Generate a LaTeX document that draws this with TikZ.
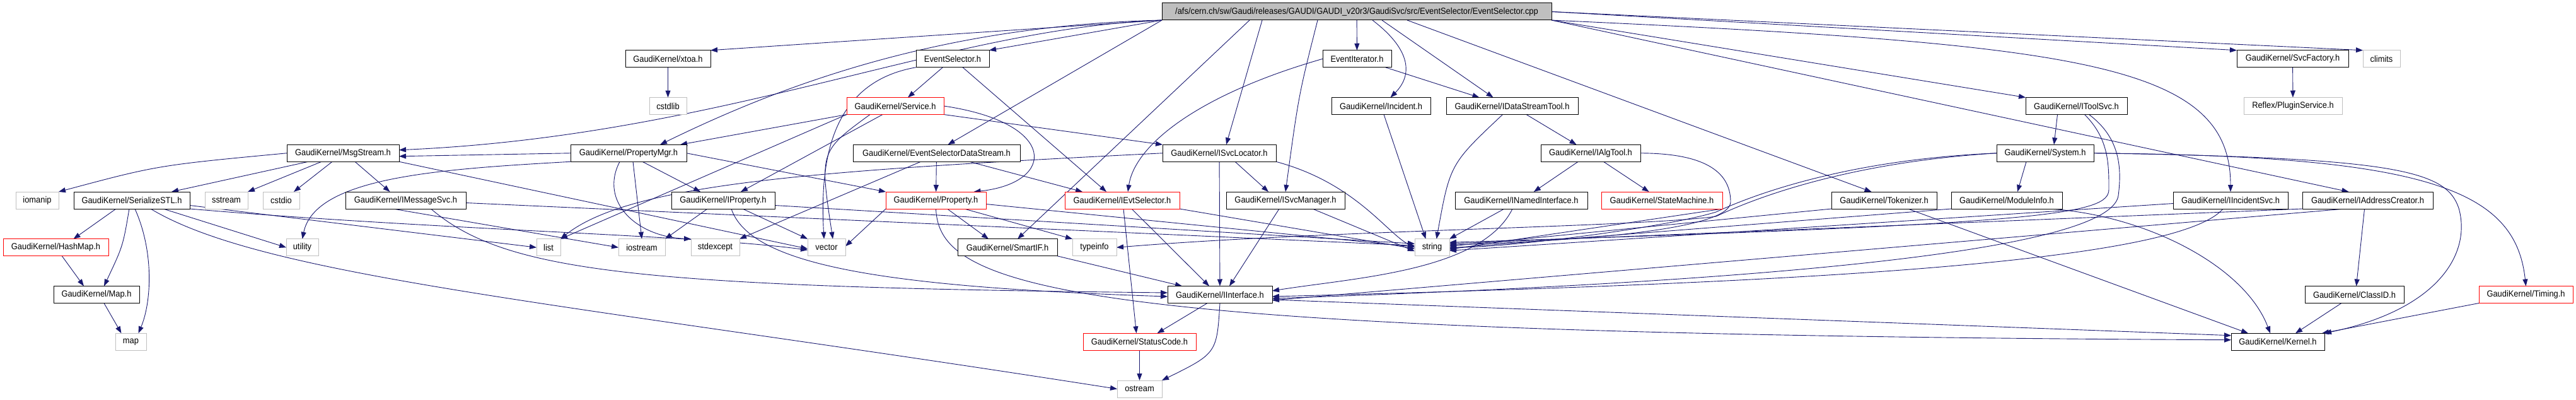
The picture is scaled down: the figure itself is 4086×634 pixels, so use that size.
\documentclass[tikz,border=0pt]{standalone}
\usepackage{fontspec}
\setmainfont{Liberation Sans}[FakeStretch=0.92]
\usetikzlibrary{arrows.meta}
\definecolor{edgecol}{HTML}{191970}
\definecolor{greyb}{HTML}{BFBFBF}
\pgfdeclarelayer{bg}
\pgfsetlayers{bg,main}
\newcommand\mynode[6]{\node[#2, minimum width={#4-#3}, minimum height=27] (#1) at ({(#3+#4)/2},{18.5+74.75*#5}) {#6};}
\tikzset{
  box/.style={draw, line width=1pt, fill=white, inner sep=0pt, outer sep=0pt, font=\fontsize{14}{16}\selectfont},
  doc/.style={box, draw=black},
  trunc/.style={box, draw=red},
  sys/.style={box, draw=greyb},
  rootst/.style={box, draw=black, fill=greyb},
  conn/.style={draw=edgecol, line width=0.9pt, -{Triangle[length=11pt,width=8pt]}, edgecol},
}
\begin{document}
\begin{tikzpicture}[x=1pt,y=-1pt]
\useasboundingbox (0,0) rectangle (4086,634);
\mynode{root}{rootst}{1843}{2461}{0}{/afs/cern.ch/sw/Gaudi/releases/GAUDI/GAUDI\_v20r3/GaudiSvc/src/EventSelector/EventSelector.cpp}
\mynode{xtoa}{doc}{992}{1127}{1}{GaudiKernel/xtoa.h}
\mynode{evsel}{doc}{1453}{1569}{1}{EventSelector.h}
\mynode{eviter}{doc}{2098}{2207}{1}{EventIterator.h}
\mynode{svcfac}{doc}{3548}{3725}{1}{GaudiKernel/SvcFactory.h}
\mynode{climits}{sys}{3748}{3807}{1}{climits}
\mynode{cstdlib}{sys}{1030}{1089}{2}{cstdlib}
\mynode{service}{trunc}{1343}{1497}{2}{GaudiKernel/Service.h}
\mynode{incident}{doc}{2112}{2269}{2}{GaudiKernel/Incident.h}
\mynode{idst}{doc}{2294}{2503}{2}{GaudiKernel/IDataStreamTool.h}
\mynode{itoolsvc}{doc}{3213}{3374}{2}{GaudiKernel/IToolSvc.h}
\mynode{plugin}{sys}{3559}{3715}{2}{Reflex/PluginService.h}
\mynode{msgstream}{doc}{455}{633}{3}{GaudiKernel/MsgStream.h}
\mynode{propmgr}{doc}{905}{1089}{3}{GaudiKernel/PropertyMgr.h}
\mynode{esds}{doc}{1353}{1618}{3}{GaudiKernel/EventSelectorDataStream.h}
\mynode{isvcloc}{doc}{1844}{2024}{3}{GaudiKernel/ISvcLocator.h}
\mynode{ialgtool}{doc}{2444}{2602}{3}{GaudiKernel/IAlgTool.h}
\mynode{system}{doc}{3167}{3321}{3}{GaudiKernel/System.h}
\mynode{iomanip}{sys}{25}{93}{4}{iomanip}
\mynode{serstl}{doc}{117}{301}{4}{GaudiKernel/SerializeSTL.h}
\mynode{sstream}{sys}{325}{393}{4}{sstream}
\mynode{cstdio}{sys}{417}{475}{4}{cstdio}
\mynode{imsgsvc}{doc}{548}{739}{4}{GaudiKernel/IMessageSvc.h}
\mynode{iprop}{doc}{1065}{1229}{4}{GaudiKernel/IProperty.h}
\mynode{property}{trunc}{1405}{1564}{4}{GaudiKernel/Property.h}
\mynode{ievtsel}{trunc}{1689}{1871}{4}{GaudiKernel/IEvtSelector.h}
\mynode{isvcmgr}{doc}{1945}{2133}{4}{GaudiKernel/ISvcManager.h}
\mynode{inamed}{doc}{2308}{2518}{4}{GaudiKernel/INamedInterface.h}
\mynode{statemach}{trunc}{2540}{2732}{4}{GaudiKernel/StateMachine.h}
\mynode{tokenizer}{doc}{2905}{3072}{4}{GaudiKernel/Tokenizer.h}
\mynode{moduleinfo}{doc}{3095}{3271}{4}{GaudiKernel/ModuleInfo.h}
\mynode{iincsvc}{doc}{3447}{3629}{4}{GaudiKernel/IIncidentSvc.h}
\mynode{iaddr}{doc}{3652}{3859}{4}{GaudiKernel/IAddressCreator.h}
\mynode{hashmap}{trunc}{5}{172}{5}{GaudiKernel/HashMap.h}
\mynode{utility}{sys}{454}{505}{5}{utility}
\mynode{list}{sys}{851}{889}{5}{list}
\mynode{iostream}{sys}{981}{1055}{5}{iostream}
\mynode{stdexcept}{sys}{1096}{1173}{5}{stdexcept}
\mynode{vector}{sys}{1281}{1341}{5}{vector}
\mynode{smartif}{doc}{1519}{1677}{5}{GaudiKernel/SmartIF.h}
\mynode{typeinfo}{sys}{1701}{1771}{5}{typeinfo}
\mynode{string}{sys}{2244}{2299}{5}{string}
\mynode{maph}{doc}{85}{221}{6}{GaudiKernel/Map.h}
\mynode{iinterface}{doc}{1852}{2018}{6}{GaudiKernel/IInterface.h}
\mynode{classid}{doc}{3656}{3813}{6}{GaudiKernel/ClassID.h}
\mynode{timing}{trunc}{3932}{4081}{6}{GaudiKernel/Timing.h}
\mynode{map}{sys}{183}{232}{7}{map}
\mynode{statuscode}{trunc}{1718}{1897}{7}{GaudiKernel/StatusCode.h}
\mynode{kernel}{doc}{3539}{3687}{7}{GaudiKernel/Kernel.h}
\mynode{ostream}{sys}{1772}{1843}{8}{ostream}
\coordinate (wA) at (2745,320);
\coordinate (wS1) at (2722,336);
\coordinate (wS2) at (2722,343);
\coordinate (wK) at (3900,330);
\coordinate (wI1) at (3345,300);
\coordinate (wI2) at (3360,310);
\begin{pgfonlayer}{bg}
% root
\draw[conn] (root.south west) -- (xtoa.north east);
\draw[conn] (root.south west) .. controls (1500,45) and (1150,215) .. ([yshift=5pt]msgstream.east);
\draw[conn] (root.south west) .. controls (1500,40) and (1250,130) .. ([xshift=-42pt]propmgr.north east);
\draw[conn] (root.south west) -- (evsel.north east);
\draw[conn] (root.south west) -- ([xshift=18pt]esds.north);
\draw[conn] ([xshift=-170pt]root.south) -- ([xshift=16pt]smartif.north);
\draw[conn] ([xshift=-150pt]root.south) -- ([xshift=11pt]isvcloc.north);
\draw[conn] ([xshift=-62pt]root.south) .. controls (2060,150) .. (isvcmgr.north);
\draw[conn] (root) -- (eviter);
\draw[conn] ([xshift=25pt]root.south) .. controls (2240,80) and (2240,120) .. ([xshift=15pt]incident.north);
\draw[conn] ([xshift=40pt]root.south) -- ([xshift=-30pt]idst.north);
\draw[conn] ([xshift=80pt]root.south) -- ([xshift=-20pt]tokenizer.north);
\draw[conn] (root.south east) -- (itoolsvc.north west);
\draw[conn] (root.east) -- (svcfac.north west);
\draw[conn] (root.east) -- (climits.north west);
\draw[conn] (root.south east) .. controls (3300,70) and (3538,100) .. (iincsvc.north);
\draw[conn] (root.south east) -- ([xshift=-30pt]iaddr.north);
% row 1
\draw[conn] (xtoa) -- (cstdlib);
\draw[conn] (evsel) -- ([xshift=20pt]service.north);
\draw[conn] ([xshift=16pt]evsel.south) -- ([xshift=-25pt]ievtsel.north);
\draw[conn] (evsel.south west) .. controls (1320,130) and (1300,250) .. ([xshift=-4pt]vector.north);
\draw[conn] (eviter.west) .. controls (1900,150) and (1800,230) .. ([xshift=9pt]ievtsel.north);
\draw[conn] ([xshift=45pt]eviter.south) -- ([xshift=-52pt]idst.north);
\draw[conn] (svcfac) -- (plugin);
% row 2
\draw[conn] (service.south west) -- ([xshift=-10pt]propmgr.north east);
\draw[conn] ([xshift=-20pt]service.south) -- ([xshift=28pt]iprop.north);
\draw[conn] (service.east) .. controls (1680,195) and (1675,290) .. ([xshift=60pt]property.north);
\draw[conn] (service.south east) -- (isvcloc.north west);
\draw[conn] (service.south west) -- (list.north east);
\draw[conn] ([xshift=-40pt]service.south) .. controls (1300,240) .. ([xshift=10pt]vector.north);
\draw[conn] (incident) -- ([xshift=-10pt]string.north);
\draw[conn] (idst) -- (ialgtool);
\draw[conn] ([xshift=-15pt]idst.south) .. controls (2300,260) .. ([xshift=7pt]string.north);
\draw[conn] ([xshift=-30pt]itoolsvc.south) -- ([xshift=14pt]system.north);
\draw[conn] ([xshift=13pt]itoolsvc.south) .. controls (3345,220) and (3345,260) .. (wI1) .. controls (3345,340) and (3250,355) .. ([yshift=8pt]string.east);
\draw[conn] ([xshift=20pt]itoolsvc.south) .. controls (3365,220) and (3365,270) .. (wI2) .. controls (3350,380) and (3000,440) .. ([yshift=-6pt]iinterface.east);
% row 3
\draw[conn] (ialgtool) -- (inamed);
\draw[conn] (ialgtool) -- (statemach);
\draw[conn] (ialgtool.east) .. controls (2700,243) and (2745,270) .. (wA) .. controls (2745,360) and (2550,380) .. ([yshift=4pt]string.east);
\draw[conn] (msgstream.west) .. controls (250,262) .. (iomanip.north east);
\draw[conn] ([xshift=-55pt]msgstream.south) -- ([xshift=-29pt]serstl.north east);
\draw[conn] ([xshift=-34pt]msgstream.south) -- (sstream.north east);
\draw[conn] ([xshift=-17pt]msgstream.south) -- ([xshift=20pt]cstdio.north);
\draw[conn] ([xshift=19pt]msgstream.south) -- ([xshift=-25pt]imsgsvc.north);
\draw[conn] (msgstream.south east) -- ([yshift=-2pt]vector.west);
\draw[conn] (propmgr.west) -- ([yshift=-5pt]msgstream.east);
\draw[conn] ([xshift=22pt]propmgr.south) -- ([xshift=-36pt]iprop.north);
\draw[conn] ([xshift=-14pt]propmgr.south) .. controls (950,320) and (1010,375) .. (stdexcept.north west);
\draw[conn] ([xshift=7pt]propmgr.south) -- (iostream.north);
\draw[conn] (propmgr.south west) .. controls (700,268) and (500,280) .. (utility.north);
\draw[conn] (propmgr.east) -- (property.north west);
\draw[conn] (esds) -- (property);
\draw[conn] ([xshift=52pt]esds.south) -- ([xshift=-63pt]ievtsel.north);
\draw[conn] ([xshift=-25pt]esds.south) -- (stdexcept.north east);
\draw[conn] (isvcloc.west) .. controls (1300,270) and (1000,290) .. (list.north east);
\draw[conn] ([xshift=25pt]isvcloc.south) -- ([xshift=-27pt]isvcmgr.north);
\draw[conn] (isvcloc) -- (iinterface);
\draw[conn] (isvcloc.south east) .. controls (2150,290) and (2200,370) .. (string.west);
\draw[conn] ([xshift=-30pt]system.south) -- ([xshift=17pt]moduleinfo.north);
\draw[conn] (system.west) .. controls (2950,252) and (2800,300) .. (wS1) .. controls (2644,360) and (2400,392) .. (string.east);
\draw[conn] (system.west) .. controls (2950,256) and (2800,306) .. (wS2) .. controls (2600,360) and (2100,365) .. (typeinfo.east);
\draw[conn] (system.east) .. controls (3800,250) and (3880,270) .. (wK) .. controls (3920,400) and (3870,490) .. (kernel.north east);
\draw[conn] (system.east) .. controls (3850,247) and (3990,300) .. (timing.north);
% row 4
\draw[conn] ([yshift=-4pt]imsgsvc.east) -- ([yshift=3pt]string.west);
\draw[conn] ([xshift=40pt]imsgsvc.south) .. controls (800,430) and (1000,455) .. ([yshift=3pt]iinterface.west);
\draw[conn] ([xshift=-20pt]imsgsvc.south) -- (iostream.west);
\draw[conn] ([xshift=-25pt]serstl.south) -- ([xshift=28pt]hashmap.north);
\draw[conn] ([xshift=-4pt]serstl.south) .. controls (195,390) .. ([xshift=12pt]maph.north);
\draw[conn] ([xshift=5pt]serstl.south) .. controls (245,400) and (240,480) .. ([xshift=12pt]map.north);
\draw[conn] ([xshift=50pt]serstl.south) -- (utility.west);
\draw[conn] ([yshift=-8pt]serstl.east) -- (list.west);
\draw[conn] (serstl.south east) .. controls (700,365) and (1100,372) .. ([yshift=-4pt]vector.west);
\draw[conn] ([xshift=30pt]serstl.south) .. controls (420,440) and (900,480) .. (ostream.west);
\draw[conn] ([xshift=-25pt]iprop.south) -- (iostream.north east);
\draw[conn] ([xshift=31pt]iprop.south) -- (vector.north west);
\draw[conn] ([xshift=13pt]iprop.south) .. controls (1190,420) and (1400,455) .. ([yshift=-3pt]iinterface.west);
\draw[conn] ([yshift=-8pt]iprop.east) -- ([yshift=6pt]string.west);
\draw[conn] ([xshift=18pt]property.south) -- ([xshift=-30pt]smartif.north);
\draw[conn] ([xshift=45pt]property.south) -- (typeinfo.north west);
\draw[conn] (property.south) .. controls (1490,460) and (1700,530) .. ([yshift=3pt]kernel.west);
\draw[conn] ([yshift=-6pt]property.east) -- ([yshift=1pt]string.west);
\draw[conn] (property.south west) -- ([yshift=2pt]vector.east);
\draw[conn] ([xshift=2pt]ievtsel.south) -- ([xshift=-5pt]statuscode.north);
\draw[conn] ([xshift=15pt]ievtsel.south) -- ([xshift=-17pt]iinterface.north);
\draw[conn] (ievtsel.south east) -- ([yshift=-2pt]string.west);
\draw[conn] ([xshift=-10pt]isvcmgr.south) -- ([xshift=15pt]iinterface.north);
\draw[conn] ([xshift=43pt]isvcmgr.south) -- ([yshift=-6pt]string.west);
\draw[conn] ([xshift=-27pt]inamed.south) -- (string.north east);
\draw[conn] ([xshift=-14pt]inamed.south) .. controls (2350,430) and (2150,440) .. ([yshift=6pt]iinterface.east);
\draw[conn] (statemach.south east) -- ([yshift=-3pt]string.east);
\draw[conn] (tokenizer.south west) -- ([yshift=2pt]string.east);
\draw[conn] ([xshift=38pt]tokenizer.south) -- ([xshift=-47pt]kernel.north);
\draw[conn] (moduleinfo.south west) -- ([yshift=-1pt]string.east);
\draw[conn] ([xshift=67pt]moduleinfo.south) .. controls (3400,340) and (3560,420) .. ([xshift=-12pt]kernel.north);
\draw[conn] ([yshift=-5pt]iincsvc.west) -- ([yshift=-5pt]string.east);
\draw[conn] ([xshift=-12pt]iincsvc.south) .. controls (3450,420) and (2800,450) .. ([yshift=-3pt]iinterface.east);
\draw[conn] ([xshift=-5pt]iaddr.south) -- ([xshift=3pt]classid.north);
\draw[conn] ([xshift=-36pt]iaddr.south) -- ([yshift=-9pt]iinterface.east);
\draw[conn] (iaddr.south west) -- ([yshift=6pt]string.east);
% rows 5-7
\draw[conn] (hashmap) -- ([xshift=-20pt]maph.north);
\draw[conn] ([xshift=12pt]maph.south) -- ([xshift=-15pt]map.north);
\draw[conn] (smartif.south east) -- ([xshift=-60pt]iinterface.north);
\draw[conn] (classid) -- ([xshift=28pt]kernel.north);
\draw[conn] (timing.south west) -- ([xshift=-4pt]kernel.north east);
\draw[conn] ([xshift=-20pt]iinterface.south) -- ([xshift=28pt]statuscode.north);
\draw[conn] (iinterface.south) .. controls (1930,560) .. (ostream.north east);
\draw[conn] ([yshift=-8pt]iinterface.east) -- ([yshift=10pt]kernel.west);
\draw[conn] (statuscode) -- (ostream);
\end{pgfonlayer}
\end{tikzpicture}
\end{document}
